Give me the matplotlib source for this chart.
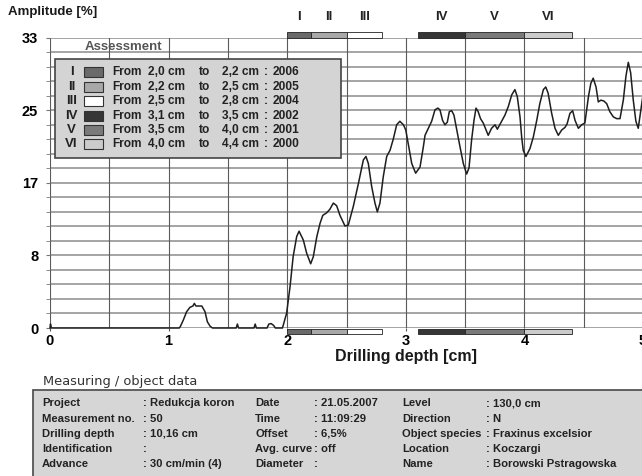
import matplotlib
matplotlib.use("Agg")
import matplotlib.pyplot as plt
from matplotlib.patches import Rectangle
import numpy as np

# ---------------- data ----------------
depth = [0.0, 0.004, 0.012, 1.09, 1.10, 1.124, 1.152, 1.18, 1.205, 1.217, 1.23, 1.28, 1.307,
         1.327, 1.35, 1.37, 1.57, 1.58, 1.59, 1.72, 1.73, 1.74, 1.83, 1.845, 1.865, 1.885,
         1.90, 1.96, 1.995, 2.024, 2.05, 2.08, 2.10, 2.136, 2.164, 2.198, 2.22, 2.25, 2.277,
         2.30, 2.333, 2.36, 2.389, 2.417, 2.445, 2.487, 2.515, 2.557, 2.60, 2.642, 2.664,
         2.684, 2.712, 2.74, 2.76, 2.782, 2.81, 2.839, 2.867, 2.895, 2.923, 2.95, 2.98, 3.0,
         3.02, 3.05, 3.083, 3.12, 3.148, 3.162, 3.19, 3.218, 3.246, 3.27, 3.288, 3.31, 3.33,
         3.35, 3.367, 3.387, 3.406, 3.43, 3.457, 3.485, 3.513, 3.533, 3.555, 3.575, 3.592,
         3.61, 3.63, 3.653, 3.695, 3.723, 3.752, 3.772, 3.808, 3.836, 3.865, 3.893, 3.92,
         3.94, 3.963, 3.977, 3.99, 4.013, 4.047, 4.075, 4.104, 4.13, 4.16, 4.18, 4.20, 4.23,
         4.258, 4.286, 4.314, 4.342, 4.36, 4.384, 4.407, 4.427, 4.455, 4.483, 4.51, 4.54,
         4.56, 4.58, 4.604, 4.623, 4.645, 4.67, 4.694, 4.72, 4.75, 4.778, 4.806, 4.834,
         4.856, 4.876, 4.896, 4.918, 4.94, 4.96, 4.988, 5.0]
amplitude = [0.0, 0.45, 0.0, 0.0, 0.2, 0.9, 1.85, 2.35, 2.5, 2.8, 2.5, 2.5, 1.85,
             0.7, 0.2, 0.0, 0.0, 0.45, 0.0, 0.0, 0.45, 0.0, 0.0, 0.45, 0.5, 0.3,
             0.0, 0.0, 1.67, 4.7, 8.1, 10.4, 11.0, 10.0, 8.5, 7.3, 8.1, 10.4, 11.9,
             12.8, 13.1, 13.5, 14.2, 13.9, 12.8, 11.6, 11.7, 13.8, 16.4, 19.1, 19.5,
             18.7, 16.1, 14.2, 13.2, 14.2, 17.2, 19.5, 20.2, 21.5, 23.1, 23.5, 23.1, 22.5,
             21.0, 18.7, 17.6, 18.3, 20.6, 21.9, 22.7, 23.5, 24.8, 25.0, 24.8, 23.6, 23.1,
             23.4, 24.6, 24.7, 24.2, 22.5, 20.6, 18.7, 17.5, 18.2, 21.4, 23.6, 25.0,
             24.6, 23.8, 23.3, 21.9, 22.7, 23.1, 22.6, 23.5, 24.2, 25.2, 26.5, 27.1,
             26.3, 24.0, 21.7, 20.2, 19.5, 20.4, 21.7, 23.6, 25.5, 27.1, 27.4, 26.7, 24.4,
             22.7, 21.9, 22.5, 22.8, 23.2, 24.4, 24.7, 23.6, 22.7, 23.1, 23.3, 26.3,
             27.8, 28.4, 27.4, 25.7, 25.9, 25.8, 25.5, 24.6, 24.0, 23.8, 23.8, 25.9,
             28.6, 30.2, 29.0, 25.9, 23.5, 22.7, 25.3, 26.5]

ytick_vals = [0, 8.25, 16.5, 24.75, 33]
ytick_labels = ["0", "8", "17", "25", "33"]
xtick_vals = [0, 1, 2, 3, 4, 5]
xtick_labels = ["0", "1", "2", "3", "4", "5"]

ring_names = ["I", "II", "III", "IV", "V", "VI"]
ring_start = [2.0, 2.2, 2.5, 3.1, 3.5, 4.0]
ring_end = [2.2, 2.5, 2.8, 3.5, 4.0, 4.4]
ring_year = [2006, 2005, 2004, 2002, 2001, 2000]
ring_colors = ["#6a6a6a", "#a8a8a8", "#ffffff", "#363636", "#7a7a7a", "#cbcbcb"]

info_col1 = [("Project", "Redukcja koron"), ("Measurement no.", "50"),
             ("Drilling depth", "10,16 cm"), ("Identification", ""),
             ("Advance", "30 cm/min (4)")]
info_col2 = [("Date", "21.05.2007"), ("Time", "11:09:29"), ("Offset", "6,5%"),
             ("Avg. curve", "off"), ("Diameter", "")]
info_col3 = [("Level", "130,0 cm"), ("Direction", "N"),
             ("Object species", "Fraxinus excelsior"), ("Location", "Koczargi"),
             ("Name", "Borowski Pstragowska")]

# ---------------- figure ----------------
W, H = 642, 476
fig = plt.figure(figsize=(W / 100, H / 100), dpi=100)
fig.patch.set_facecolor("white")


def fx(px):
    return px / W


def fy(py):
    return 1 - py / H


BOLD = ["Liberation Sans", "DejaVu Sans"]
NARROW = ["Liberation Sans Narrow", "Liberation Sans", "DejaVu Sans"]

ax_l, ax_r, ax_t, ax_b = 50, 643, 37.7, 328
ax = fig.add_axes([fx(ax_l), fy(ax_b), (ax_r - ax_l) / W, (ax_b - ax_t) / H])
ax.set_xlim(0, 5)
ax.set_ylim(0, 33)
for s in ax.spines.values():
    s.set_visible(False)

# grid
for k in range(21):
    ax.axhline(k * 1.65, color="#8c8c8c", lw=1.1, zorder=1)
for k in range(10):
    ax.axvline(k * 0.5, color="#5a5a5a", lw=0.8, zorder=1)

ax.set_yticks(ytick_vals)
ax.set_yticklabels(ytick_labels, fontsize=10.5, fontweight="bold", family=BOLD)
ax.set_yticks(np.arange(0, 33.01, 1.65), minor=True)
ax.tick_params(axis="y", which="both", length=3, color="#777777", pad=5.5)
ax.set_xticks(xtick_vals)
ax.set_xticklabels(xtick_labels, fontsize=10.5, fontweight="bold", family=BOLD)
ax.tick_params(axis="x", length=2, color="#555555", pad=2)

ax.plot(depth, amplitude, color="#1e1e1e", lw=1.1, zorder=3, clip_on=False)

# ring bars top and bottom
for i in range(len(ring_names)):
    for (y0, h) in [(33.0, 0.65), (-0.68, 0.6)]:
        ax.add_patch(Rectangle((ring_start[i], y0), ring_end[i] - ring_start[i], h,
                               facecolor=ring_colors[i], edgecolor="#222222", lw=0.6,
                               clip_on=False, zorder=4))
    ax.text((ring_start[i] + ring_end[i]) / 2, 35.4, ring_names[i], ha="center", va="center",
            fontsize=9.5, fontweight="bold", family=BOLD, color="#222222", clip_on=False)

ax.text(3.0, -3.2, "Drilling depth [cm]", ha="center", va="center", fontsize=11.5,
        fontweight="bold", family=BOLD, color="#1a1a1a", clip_on=False)
fig.text(fx(8), fy(12), "Amplitude [%]", ha="left", va="center", fontsize=9.5,
         fontweight="bold", family=BOLD, color="#1a1a1a")

# legend (assessment)
fig.text(fx(85), fy(47), "Assessment", ha="left", va="center", fontsize=9.5,
         fontweight="bold", family=BOLD, color="#555555")
fig.add_artist(Rectangle((fx(55), fy(158)), (341 - 55) / W, (158 - 59) / H,
                         transform=fig.transFigure, facecolor="#d4d4d4",
                         edgecolor="#444444", lw=1.2, zorder=5))
row_y = [72.3, 86.7, 101, 115.7, 130, 144.3]
for i in range(len(ring_names)):
    y = row_y[i]
    fig.text(fx(71.5), fy(y), ring_names[i], ha="center", va="center", fontsize=9.5,
             fontweight="bold", family=NARROW, color="#222222", zorder=6)
    fig.add_artist(Rectangle((fx(84), fy(y + 5)), 19 / W, 10 / H,
                             transform=fig.transFigure, facecolor=ring_colors[i],
                             edgecolor="#333333", lw=0.8, zorder=6))
    s0 = f"{ring_start[i]:.1f}".replace(".", ",") + " cm"
    s1 = f"{ring_end[i]:.1f}".replace(".", ",") + " cm"
    for xp, t in [(112, "From"), (148, s0), (199, "to"), (222, s1), (264, ":"),
                  (273, str(ring_year[i]))]:
        fig.text(fx(xp), fy(y), t, ha="left", va="center", fontsize=8.6,
                 fontweight="bold", family=NARROW, color="#222222", zorder=6)

# bottom info panel
fig.text(fx(43), fy(382), "Measuring / object data", ha="left", va="center",
         fontsize=9.4, family=["DejaVu Sans"], color="#333333")
fig.add_artist(Rectangle((fx(33), fy(480)), (650 - 33) / W, (480 - 390) / H,
                         transform=fig.transFigure, facecolor="#d6d6d6",
                         edgecolor="#555555", lw=1.3, zorder=5))
info_y = [403.5, 419, 434, 449, 464]
cols = [(info_col1, 42, 143), (info_col2, 255, 314), (info_col3, 402, 486)]
for data, xl, xc in cols:
    for j, (lab, val) in enumerate(data):
        fig.text(fx(xl), fy(info_y[j]), lab, ha="left", va="center", fontsize=8.1,
                 fontweight="bold", family=NARROW, color="#222222", zorder=6)
        fig.text(fx(xc), fy(info_y[j]), ": " + val, ha="left", va="center", fontsize=8.1,
                 fontweight="bold", family=NARROW, color="#222222", zorder=6)

fig.savefig("out.png", dpi=100)
